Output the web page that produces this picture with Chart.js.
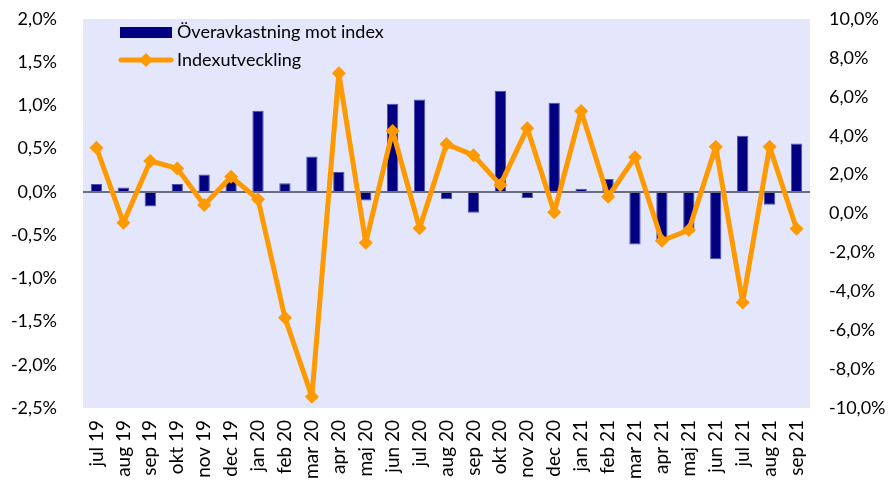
<!DOCTYPE html>
<html>
<head>
<meta charset="utf-8">
<script src="https://cdn.jsdelivr.net/npm/chart.js@4"></script>
<style>
  html, body { margin: 0; padding: 0; background: #fff; }
  #wrap { width: 891px; height: 480px; }
</style>
</head>
<body>
<div id="wrap"><canvas id="chart" width="891" height="480"></canvas></div>
<script>
const labels = ["jul 19", "aug 19", "sep 19", "okt 19", "nov 19", "dec 19", "jan 20", "feb 20", "mar 20", "apr 20", "maj 20", "jun 20", "jul 20", "aug 20", "sep 20", "okt 20", "nov 20", "dec 20", "jan 21", "feb 21", "mar 21", "apr 21", "maj 21", "jun 21", "jul 21", "aug 21", "sep 21"]

// Överavkastning mot index (%), left axis
const excess = [0.09, 0.05, -0.17, 0.09, 0.2, 0.14, 0.94, 0.1, 0.41, 0.23, -0.1, 1.02, 1.07, -0.085, -0.24, 1.17, -0.07, 1.03, 0.035, 0.15, -0.61, -0.56, -0.47, -0.78, 0.65, -0.15, 0.56]

// Indexutveckling (%), right axis
const indexChange = [3.38, -0.47, 2.7, 2.32, 0.44, 1.89, 0.73, -5.36, -9.42, 7.21, -1.5, 4.24, -0.76, 3.57, 3.0, 1.47, 4.38, 0.06, 5.27, 0.86, 2.89, -1.4, -0.85, 3.43, -4.57, 3.43, -0.78]

const leftTicks = { min: -2.5, max: 2.0, step: 0.5 }
const rightTicks = { min: -10, max: 10, step: 2 }

const FONT = "Lato, 'Noto Sans', sans-serif"
const pct = (v) => v.toFixed(1).replace(".", ",") + "%"

const plotBg = {
  id: "plotBg",
  beforeDraw(chart) {
    const { ctx, chartArea: a } = chart
    ctx.save()
    ctx.fillStyle = "#e4e6fb"
    ctx.fillRect(a.left, a.top, a.right - a.left, a.bottom - a.top)
    ctx.restore()
  }
}

const insideLegend = {
  id: "insideLegend",
  afterDraw(chart) {
    const { ctx } = chart
    ctx.save()
    ctx.font = "18px " + FONT
    ctx.textBaseline = "middle"
    // bar entry
    ctx.fillStyle = "#000080"
    ctx.fillRect(120, 27, 52, 11)
    ctx.fillStyle = "#000"
    ctx.fillText(chart.data.datasets[1].label, 177, 32)
    // line entry
    ctx.strokeStyle = "#ff9900"
    ctx.lineWidth = 5
    ctx.lineCap = "round"
    ctx.beginPath()
    ctx.moveTo(121, 60)
    ctx.lineTo(171, 60)
    ctx.stroke()
    ctx.fillStyle = "#ff9900"
    ctx.beginPath()
    ctx.moveTo(146, 53)
    ctx.lineTo(153, 60)
    ctx.lineTo(146, 67)
    ctx.lineTo(139, 60)
    ctx.closePath()
    ctx.fill()
    ctx.fillStyle = "#000"
    ctx.fillText(chart.data.datasets[0].label, 177, 60)
    ctx.restore()
  }
}

// keep the plot area fixed: no extra padding from tick labels
const noPad = (scale) => {
  scale.paddingTop = 0
  scale.paddingBottom = 0
  scale.paddingLeft = 0
  scale.paddingRight = 0
}

new Chart(document.getElementById("chart"), {
  data: {
    labels,
    datasets: [
      {
        type: "line",
        label: "Indexutveckling",
        data: indexChange,
        yAxisID: "y2",
        order: 0,
        borderColor: "#ff9900",
        backgroundColor: "#ff9900",
        borderWidth: 5,
        borderJoinStyle: "round",
        pointStyle: "rectRot",
        pointRadius: 7,
        pointBorderWidth: 0,
        tension: 0
      },
      {
        type: "bar",
        label: "Överavkastning mot index",
        data: excess,
        yAxisID: "y",
        order: 1,
        backgroundColor: "#000080",
        borderColor: "#5050b0",
        borderWidth: 1,
        categoryPercentage: 1,
        barPercentage: 0.42
      }
    ]
  },
  options: {
    responsive: false,
    animation: false,
    layout: { autoPadding: false, padding: { top: 19, left: 0, right: 0, bottom: 0 } },
    plugins: {
      legend: { display: false },
      tooltip: { enabled: false }
    },
    scales: {
      x: {
        offset: true,
        grid: { display: false, drawTicks: false },
        border: { display: false },
        ticks: {
          color: "#000",
          font: { family: FONT, size: 19 },
          maxRotation: 90,
          minRotation: 90,
          padding: 12,
          autoSkip: false
        },
        afterFit(scale) { scale.height = 72; noPad(scale) }
      },
      y: {
        position: "left",
        min: leftTicks.min,
        max: leftTicks.max,
        grid: {
          drawTicks: false,
          color: (c) => (c.tick && c.tick.value === 0 ? "#6b6e80" : "transparent"),
          lineWidth: 2
        },
        border: { display: false },
        ticks: {
          stepSize: leftTicks.step,
          color: "#000",
          font: { family: FONT, size: 18 },
          padding: 26,
          callback: (v) => pct(v)
        },
        afterFit(scale) { scale.width = 83; noPad(scale) }
      },
      y2: {
        position: "right",
        min: rightTicks.min,
        max: rightTicks.max,
        grid: { display: false, drawTicks: false },
        border: { display: false },
        ticks: {
          stepSize: rightTicks.step,
          color: "#000",
          font: { family: FONT, size: 18 },
          padding: 19,
          callback: (v) => pct(v)
        },
        afterFit(scale) { scale.width = 81; noPad(scale) }
      }
    }
  },
  plugins: [plotBg, insideLegend]
})
</script>
</body>
</html>
